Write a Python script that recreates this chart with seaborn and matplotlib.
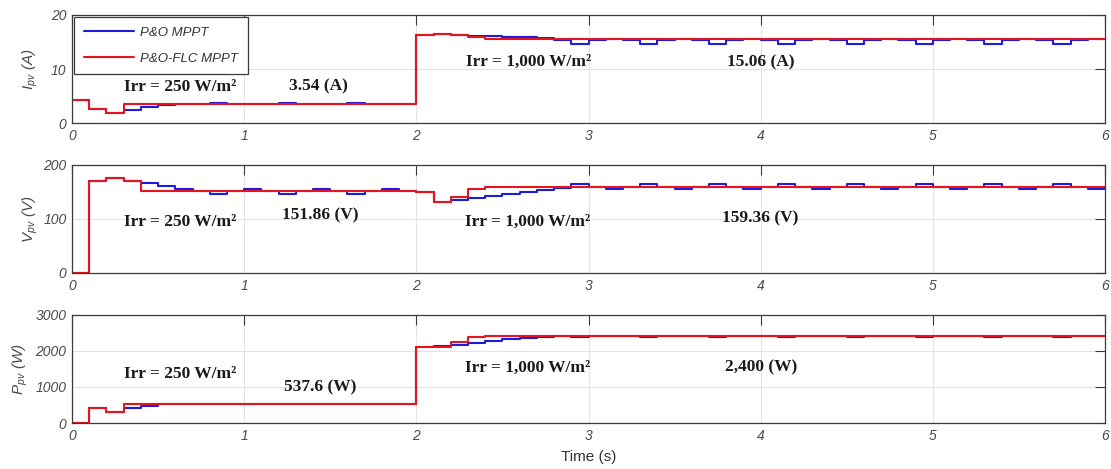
import numpy as np
import pandas as pd
import matplotlib
matplotlib.use("Agg")
import matplotlib.pyplot as plt
import seaborn as sns

# ---- sampled PV quantities, one value per 0.1 s control step (0.0 ... 5.9 s) ----
methods = ["P&O MPPT", "P&O-FLC MPPT"]

ipv_po = [4.2, 2.6, 1.8, 2.4, 2.9, 3.3, 3.45, 3.55,
          3.66, 3.56, 3.45, 3.56, 3.66, 3.56, 3.45, 3.56, 3.66, 3.56, 3.45, 3.56,
          16.3, 16.4, 16.3, 16.2, 16.2, 16.0, 16.0, 15.8, 15.4,
          14.7, 15.3, 15.6, 15.3, 14.7, 15.3, 15.6, 15.3, 14.7, 15.3, 15.6, 15.3,
          14.7, 15.3, 15.6, 15.3, 14.7, 15.3, 15.6, 15.3, 14.7, 15.3, 15.6, 15.3,
          14.7, 15.3, 15.6, 15.3, 14.7, 15.3, 15.6]
ipv_flc = [4.2, 2.6, 1.8, 3.45,
           3.6, 3.6, 3.6, 3.6, 3.6, 3.6, 3.6, 3.6, 3.6, 3.6, 3.6, 3.6, 3.6, 3.6, 3.6, 3.6,
           16.3, 16.4, 16.3, 15.9,
           15.6, 15.6, 15.6, 15.6, 15.6, 15.6, 15.6, 15.6, 15.6, 15.6, 15.6, 15.6,
           15.6, 15.6, 15.6, 15.6, 15.6, 15.6, 15.6, 15.6, 15.6, 15.6, 15.6, 15.6,
           15.6, 15.6, 15.6, 15.6, 15.6, 15.6, 15.6, 15.6, 15.6, 15.6, 15.6, 15.6]

vpv_po = [0, 170, 176, 170, 166, 161, 156, 151,
          147, 151, 155, 151, 147, 151, 155, 151, 147, 151, 155, 151,
          150, 132, 135, 138, 142, 146, 150, 154, 158,
          165, 160, 155, 160, 165, 160, 155, 160, 165, 160, 155, 160,
          165, 160, 155, 160, 165, 160, 155, 160, 165, 160, 155, 160,
          165, 160, 155, 160, 165, 160, 155]
vpv_flc = [0, 170, 176, 170,
           151, 151, 151, 151, 151, 151, 151, 151, 151, 151, 151, 151, 151, 151, 151, 151,
           150, 132, 141, 155,
           160, 160, 160, 160, 160, 160, 160, 160, 160, 160, 160, 160,
           160, 160, 160, 160, 160, 160, 160, 160, 160, 160, 160, 160,
           160, 160, 160, 160, 160, 160, 160, 160, 160, 160, 160, 160]

ppv_po = [0, 430, 300, 410, 475, 515, 530,
          537.6, 537.6, 537.6, 537.6, 537.6, 537.6, 537.6, 537.6, 537.6, 537.6, 537.6, 537.6, 537.6,
          2100, 2130, 2170, 2220, 2265, 2325, 2375, 2400, 2415,
          2400, 2425, 2425, 2425, 2400, 2425, 2425, 2425, 2400, 2425, 2425, 2425,
          2400, 2425, 2425, 2425, 2400, 2425, 2425, 2425, 2400, 2425, 2425, 2425,
          2400, 2425, 2425, 2425, 2400, 2425, 2425]
ppv_flc = [0, 430, 300, 530,
           537.6, 537.6, 537.6, 537.6, 537.6, 537.6, 537.6, 537.6,
           537.6, 537.6, 537.6, 537.6, 537.6, 537.6, 537.6, 537.6,
           2100, 2100, 2240, 2380,
           2425, 2425, 2425, 2425, 2425, 2425, 2425, 2425, 2425, 2425, 2425, 2425,
           2425, 2425, 2425, 2425, 2425, 2425, 2425, 2425, 2425, 2425, 2425, 2425,
           2425, 2425, 2425, 2425, 2425, 2425, 2425, 2425, 2425, 2425, 2425, 2425]

ylabels = [r"$I_{pv}\ (A)$", r"$V_{pv}\ (V)$", r"$P_{pv}\ (W)$"]
yticks = [[0, 10, 20], [0, 100, 200], [0, 1000, 2000, 3000]]
xticks = [0, 1, 2, 3, 4, 5, 6]

# operating-point annotations: (text, x, y, horizontal alignment)
notes = [
    [("Irr = 250 W/m\u00b2", 0.30, 6.7, "left"), ("3.54 (A)", 1.43, 6.7, "center"),
     ("Irr = 1,000 W/m\u00b2", 2.29, 11.3, "left"), ("15.06 (A)", 4.0, 11.3, "center")],
    [("Irr = 250 W/m\u00b2", 0.30, 94, "left"), ("151.86 (V)", 1.44, 107, "center"),
     ("Irr = 1,000 W/m\u00b2", 2.28, 94, "left"), ("159.36 (V)", 4.0, 101, "center")],
    [("Irr = 250 W/m\u00b2", 0.30, 1360, "left"), ("537.6 (W)", 1.44, 1000, "center"),
     ("Irr = 1,000 W/m\u00b2", 2.28, 1530, "left"), ("2,400 (W)", 4.0, 1555, "center")],
]

# ---- tidy frame; the last sample is held to t = 6 s so each step trace reaches the edge ----
step = 0.1
n = len(ipv_po)
t = np.round(np.arange(n + 1) * step, 1)


def hold(vals):
    return list(vals) + [vals[-1]]


frames = []
for m, i_s, v_s, p_s in [(methods[0], ipv_po, vpv_po, ppv_po),
                         (methods[1], ipv_flc, vpv_flc, ppv_flc)]:
    frames.append(pd.DataFrame({"t": t, "I": hold(i_s), "V": hold(v_s),
                                "P": hold(p_s), "method": m}))
df = pd.concat(frames, ignore_index=True)

# ---- styling ----
sns.set_style("white")
plt.rcParams["font.family"] = ["Liberation Sans", "DejaVu Sans"]
plt.rcParams["mathtext.fontset"] = "custom"
plt.rcParams["mathtext.it"] = "Liberation Sans:italic"
plt.rcParams["mathtext.rm"] = "Liberation Sans:italic"

tick_col = "#4a4a4a"
spine_col = "#3a3a3a"
palette = {methods[0]: "#1c1ce0", methods[1]: "#e6141e"}

fig = plt.figure(figsize=(11.11, 4.69), dpi=100)
left, width, height = 72 / 1111, 1033 / 1111, 108 / 469
bottoms = [1 - 123 / 469, 1 - 273 / 469, 1 - 423 / 469]
axes = [fig.add_axes([left, b, width, height]) for b in bottoms]
label_x = [-0.031, -0.031, -0.041]

for k, (ax, col) in enumerate(zip(axes, ["I", "V", "P"])):
    sns.lineplot(data=df, x="t", y=col, hue="method", hue_order=methods,
                 palette=palette, drawstyle="steps-post", estimator=None,
                 linewidth=1.5, ax=ax, legend=(k == 0))
    ax.set_xlim(0, 6)
    ax.set_ylim(yticks[k][0], yticks[k][-1])
    ax.set_xticks(xticks)
    ax.set_yticks(yticks[k])
    ax.set_xticklabels([str(x) for x in xticks], style="italic")
    ax.set_yticklabels([str(y) for y in yticks[k]], style="italic")
    ax.grid(True, color="#e4e4e4", linewidth=0.8)
    ax.set_axisbelow(True)
    ax.tick_params(direction="in", top=True, right=True, length=7, width=0.8,
                   colors=spine_col, labelcolor=tick_col, labelsize=10, pad=4)
    for s in ax.spines.values():
        s.set_color(spine_col)
        s.set_linewidth(0.9)
    ax.set_ylabel(ylabels[k], fontsize=11, color=tick_col)
    ax.yaxis.set_label_coords(label_x[k], 0.5)
    ax.set_xlabel("")
    for txt, x, y, ha in notes[k]:
        ax.text(x, y, txt, ha=ha, va="center", fontsize=12.5, fontweight="bold",
                family="Liberation Serif", color="#1a1a1a")

axes[2].set_xlabel("Time (s)", fontsize=11, color="#333333")
axes[2].xaxis.set_label_coords(0.5, -0.25)

leg = axes[0].legend(loc="upper left", borderaxespad=0.15, handlelength=3.8,
                     handletextpad=0.45, labelspacing=1.0, borderpad=0.75,
                     fancybox=False, framealpha=1, edgecolor=spine_col,
                     prop={"family": "Liberation Sans", "style": "italic", "size": 9.5})
leg.get_frame().set_linewidth(0.9)
for txt in leg.get_texts():
    txt.set_color("#333333")

fig.savefig("out.png", dpi=100, facecolor="white")
